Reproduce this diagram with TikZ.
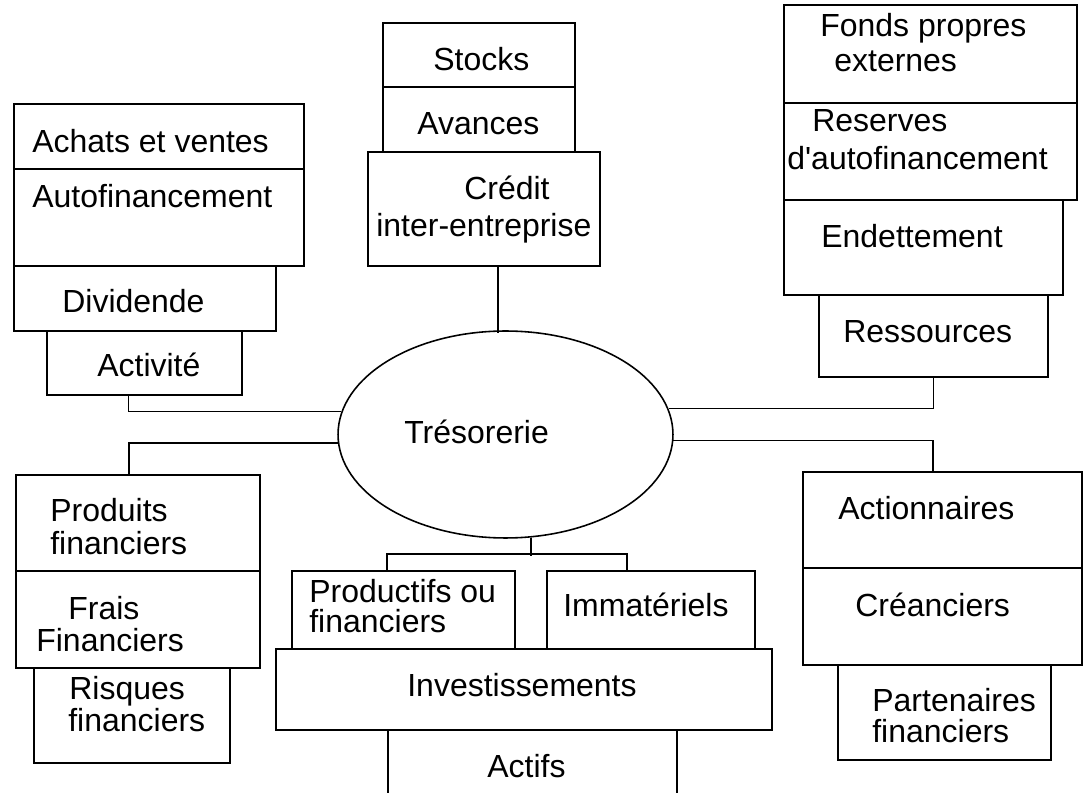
\documentclass[tikz,border=0pt]{standalone}
\usepackage{fontspec}
\setmainfont{Liberation Sans}[Ligatures=TeXOff]
\usetikzlibrary{shapes.geometric,fit,calc}

\tikzset{
  cadre/.style={draw=black, line width=0.9pt, inner sep=0pt},
  lbl/.style={anchor=base west, inner sep=0pt, font=\fontsize{18.2}{22}\selectfont},
  lien/.style={line width=0.9pt}
}

\begin{document}
\begin{tikzpicture}[x=0.02cm, y=-0.02cm]
  \useasboundingbox (0,0) rectangle (1086,793);
  \fill[white] (0,0) rectangle (1086,793);
  \clip (0,0) rectangle (1086,793);

  % centre
  \node[cadre, ellipse, minimum width=6.7cm, minimum height=4.14cm] (tre) at (505.5,434.5) {};
  \node[lbl] (ttre) at (404,444) {Trésorerie};

  % haut gauche
  \node[cadre, fit={(14,104) (304,169)}] (achats) {};
  \node[cadre, fit={(14,169) (304,266)}] (autofin) {};
  \node[cadre, fit={(14,266) (276,331)}] (divid) {};
  \node[cadre, fit={(47,331) (242,395)}] (activ) {};
  \node[lbl] (tachats) at (32,153) {Achats et ventes};
  \node[lbl] (tautofin) at (32,208) {Autofinancement};
  \node[lbl] (tdivid) at (62,313) {Dividende};
  \node[lbl] (tactiv) at (97,377) {Activité};

  % haut milieu
  \node[cadre, fit={(383,23) (575,87)}] (stocks) {};
  \node[cadre, fit={(383,87) (575,152)}] (avances) {};
  \node[cadre, fit={(368,152) (600,266)}] (credit) {};
  \node[lbl] (tstocks) at (433,71) {Stocks};
  \node[lbl] (tavances) at (417,135) {Avances};
  \node[lbl] (tcredit) at (464,200) {Crédit};
  \node[lbl] (tinter) at (376,237) {inter-entreprise};

  % haut droite
  \node[cadre, fit={(784,5) (1077,103)}] (fonds) {};
  \node[cadre, fit={(784,103) (1077,200)}] (reserves) {};
  \node[cadre, fit={(784,200) (1063,295)}] (endet) {};
  \node[cadre, fit={(819,295) (1048,377)}] (ressources) {};
  \node[lbl] (tfonds) at (820,37) {Fonds propres};
  \node[lbl] (texternes) at (834,72) {externes};
  \node[lbl] (treserves) at (812,132) {Reserves};
  \node[lbl] (tautof) at (787,170) {d'autofinancement};
  \node[lbl] (tendet) at (821,248) {Endettement};
  \node[lbl] (tressources) at (843,343) {Ressources};

  % bas gauche
  \node[cadre, fit={(16,475) (260,571)}] (prod) {};
  \node[cadre, fit={(16,571) (260,668)}] (frais) {};
  \node[cadre, fit={(34,668) (230,763)}] (risques) {};
  \node[lbl] (tprod) at (50,522) {Produits};
  \node[lbl] (tprodfin) at (50,555) {financiers};
  \node[lbl] (tfrais) at (68,620) {Frais};
  \node[lbl] (tfraisfin) at (36,652) {Financiers};
  \node[lbl] (trisques) at (69,700) {Risques};
  \node[lbl] (trisqfin) at (68,732) {financiers};

  % bas milieu
  \node[cadre, fit={(292,571) (515,649)}] (productifs) {};
  \node[cadre, fit={(547,571) (755,649)}] (immat) {};
  \node[cadre, fit={(276,649) (772,730)}] (invest) {};
  \node[cadre, fit={(388,730) (677,820)}] (actifs) {};
  \node[lbl] (tproductifs) at (309,603) {Productifs ou};
  \node[lbl] (tproductfin) at (309,633) {financiers};
  \node[lbl] (timmat) at (563,617) {Immatériels};
  \node[lbl] (tinvest) at (407,697) {Investissements};
  \node[lbl] (tactifs) at (487,778) {Actifs};

  % bas droite
  \node[cadre, fit={(803,472) (1082,568)}] (actio) {};
  \node[cadre, fit={(803,568) (1082,665)}] (crean) {};
  \node[cadre, fit={(838,665) (1051,760)}] (parten) {};
  \node[lbl] (tactio) at (838,520) {Actionnaires};
  \node[lbl] (tcrean) at (855,617) {Créanciers};
  \node[lbl] (tparten) at (872,712) {Partenaires};
  \node[lbl] (tpartfin) at (872,743) {financiers};

  % liaisons
  \draw[lien] ($(credit.south)+(14,0)$) -- ++(0,66);
  \draw[lien] ($(activ.south)+(-16,0)$) |- (tre.172);
  \draw[lien] (tre.183) -| ($(prod.north)+(-9,0)$);
  \draw[lien] (ressources.south) |- (tre.9);
  \draw[lien] (tre.-2) -| ($(actio.north)+(-9.5,0)$);
  \draw[lien] (tre.-76) -- ++(0,18);
  \draw[lien] ($(productifs.north)+(-16.5,0)$) -- ++(0,-16) -| ($(immat.north)+(-24,0)$);
\end{tikzpicture}
\end{document}
